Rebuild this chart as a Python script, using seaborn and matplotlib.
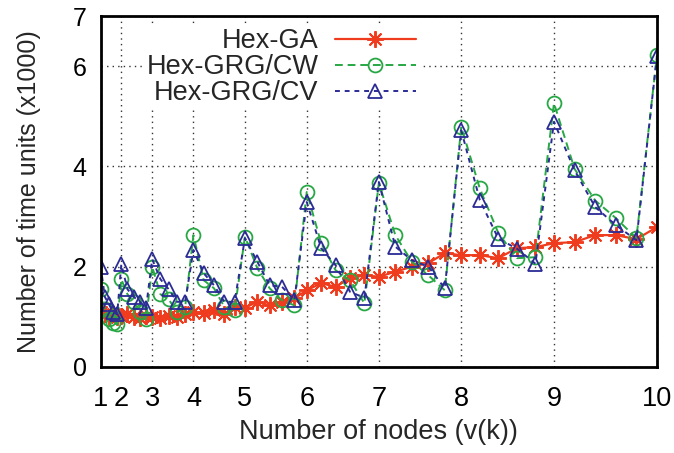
import numpy as np
import pandas as pd
import matplotlib
matplotlib.use("Agg")
import matplotlib.pyplot as plt
import seaborn as sns

# ---- data -------------------------------------------------------------
rings = [1, 2, 3, 4, 5, 6, 7, 8, 9, 10]
ring_nodes = [7, 19, 37, 61, 91, 127, 169, 217, 271, 331]   # v(k) = 3k^2+3k+1
y_ticks = [0, 2, 4, 6, 7]

k_pos = [1.0, 1.2, 1.4, 1.6, 1.8, 2.0, 2.2, 2.4, 2.6, 2.8, 3.0, 3.2, 3.4, 3.6, 3.8,
         4.0, 4.2, 4.4, 4.6, 4.8, 5.0, 5.2, 5.4, 5.6, 5.8, 6.0, 6.2, 6.4, 6.6, 6.8,
         7.0, 7.2, 7.4, 7.6, 7.8, 8.0, 8.2, 8.4, 8.6, 8.8, 9.0, 9.2, 9.4, 9.6, 9.8, 10.0]

hex_ga = [1.10, 1.05, 1.00, 1.05, 1.00, 1.02, 1.05, 1.00, 0.98, 1.02, 1.00,
          0.98, 1.02, 1.00, 1.05, 1.10, 1.07, 1.13, 1.05, 1.20, 1.18,
          1.30, 1.23, 1.30, 1.37, 1.53, 1.67, 1.60, 1.77, 1.83, 1.80,
          1.90, 2.00, 2.07, 2.27, 2.23, 2.23, 2.17, 2.37, 2.39, 2.47,
          2.49, 2.63, 2.63, 2.55, 2.79]

hex_grg_cw = [1.55, 1.15, 0.95, 0.88, 0.85, 1.75, 1.45, 1.30, 1.10, 0.95, 2.00,
              1.45, 1.35, 1.10, 1.20, 2.63, 1.73, 1.57, 1.20, 1.13, 2.60,
              1.97, 1.57, 1.33, 1.23, 3.49, 2.47, 1.93, 1.73, 1.27, 3.67,
              2.63, 2.10, 1.83, 1.53, 4.79, 3.56, 2.67, 2.17, 2.19, 5.26,
              3.95, 3.32, 2.97, 2.57, 6.22]

hex_grg_cv = [2.00, 1.40, 1.25, 1.10, 1.05, 2.05, 1.55, 1.40, 1.30, 1.18, 2.15,
              1.75, 1.55, 1.30, 1.30, 2.33, 1.87, 1.63, 1.30, 1.30, 2.57,
              2.10, 1.63, 1.60, 1.33, 3.29, 2.37, 2.03, 1.50, 1.38, 3.69,
              2.40, 2.13, 2.00, 1.57, 4.72, 3.33, 2.56, 2.36, 2.06, 4.89,
              3.92, 3.19, 2.83, 2.53, 6.21]

series_names = ["Hex-GA", "Hex-GRG/CW", "Hex-GRG/CV"]

df = pd.DataFrame({
    "k": k_pos * 3,
    "time": hex_ga + hex_grg_cw + hex_grg_cv,
    "series": [n for n in series_names for _ in k_pos],
})

# ---- styling ----------------------------------------------------------
sns.set_style("white")
plt.rcParams["font.family"] = ["Liberation Sans", "DejaVu Sans"]
FS = 18      # tick labels
FS_H = 19.5  # horizontal labels / legend

styles = {
    "Hex-GA": dict(color="#f03c1e", marker=(8, 2, 0), markersize=12, mew=1.4,
                   linestyle="-", lw=1.6),
    "Hex-GRG/CW": dict(color="#27a844", marker="o", markersize=10, mew=1.3,
                       linestyle=(0, (4, 2.5)), lw=1.4),
    "Hex-GRG/CV": dict(color="#2b2b96", marker="^", markersize=10, mew=1.3,
                       linestyle=(0, (2.5, 2.5)), lw=1.4),
}

fig = plt.figure(figsize=(6.74, 4.53), dpi=100)
ax = fig.add_axes([100.7 / 674, 1 - 367 / 453, (657 - 100.7) / 674, (367 - 16) / 453])

ext_r = np.array([0] + rings + [11], dtype=float)
ext_n = np.array([1] + ring_nodes + [397], dtype=float)
fwd = lambda k: np.interp(k, ext_r, ext_n)
inv = lambda v: np.interp(v, ext_n, ext_r)
ax.set_xscale("function", functions=(fwd, inv))

for name in series_names:
    st = styles[name]
    sns.lineplot(data=df[df["series"] == name], x="k", y="time", ax=ax,
                 sort=False, errorbar=None, label=name,
                 color=st["color"], marker=st["marker"], markersize=st["markersize"],
                 markerfacecolor="none", markeredgecolor=st["color"],
                 markeredgewidth=st["mew"], linestyle=st["linestyle"], linewidth=st["lw"])

ax.set_xlim(1, 10)
ax.set_ylim(0, 7)
ax.set_xticks(rings)
ax.set_xticklabels([str(r) for r in rings])
ax.set_yticks(y_ticks)
ax.set_yticklabels([str(t) for t in y_ticks])

ax.grid(True, color="#333333", linestyle=(0, (1, 3)), linewidth=1.0)
ax.set_axisbelow(True)
for s in ax.spines.values():
    s.set_visible(True)
    s.set_color("black")
    s.set_linewidth(2)
ax.tick_params(axis="both", direction="in", length=4, width=1, labelsize=FS,
               colors="black")
ax.tick_params(axis="x", pad=14, labelsize=FS_H)
ax.tick_params(axis="y", pad=10)

ax.set_xlabel("Number of nodes (v(k))", fontsize=FS_H, labelpad=5)
ax.set_ylabel("Number of time units (x1000)", fontsize=FS, labelpad=23)

h, l = ax.get_legend_handles_labels()
leg = ax.legend(h, l, loc="upper right", bbox_to_anchor=(420 / 674, 1 - 24 / 453),
                bbox_transform=fig.transFigure, markerfirst=False, frameon=True,
                facecolor="white", edgecolor="none", framealpha=1, fontsize=FS_H,
                handlelength=3.0, handletextpad=0.6, labelspacing=0.0,
                borderpad=0.15, borderaxespad=0)

fig.savefig("out.png", dpi=100)
